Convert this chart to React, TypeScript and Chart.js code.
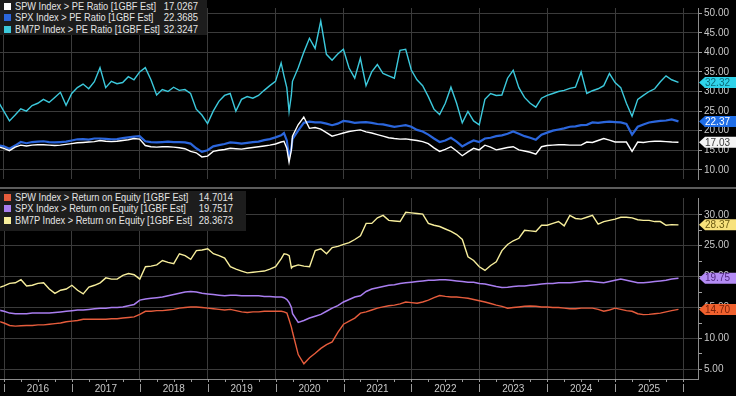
import React, { useEffect, useRef } from "react";
import { Chart, registerables } from "chart.js";

Chart.register(...registerables);

// ---- x positions: months since Jan 2016 (extra points around the 2020 crash) ----
const MONTHS = [
  -1,
  0, 1, 2, 3, 4, 5, 6, 7, 8, 9, 10, 11,
  12, 13, 14, 15, 16, 17, 18, 19, 20, 21, 22, 23,
  24, 25, 26, 27, 28, 29, 30, 31, 32, 33, 34, 35,
  36, 37, 38, 39, 40, 41, 42, 43, 44, 45, 46, 47,
  48, 49, 49.5, 50, 50.4, 50.8, 51, 52, 53, 54, 55, 56, 57, 58, 59,
  60, 61, 62, 63, 64, 65, 66, 67, 68, 69, 70, 71,
  72, 73, 74, 75, 76, 77, 78, 79, 80, 81, 82, 83,
  84, 85, 86, 87, 88, 89, 90, 91, 92, 93, 94, 95,
  96, 97, 98, 99, 100, 101, 102, 103, 104, 105, 106, 107,
  108, 109, 110, 111, 112, 113, 114, 115, 116, 117, 118, 119.2,
];

const YEARS = ["2016", "2017", "2018", "2019", "2020", "2021", "2022", "2023", "2024", "2025"];

// ---- top panel: PE ratio ----
const SPW_PE = [
  15.9,
  15.5, 14.9, 15.8, 16.3, 16.1, 16.3, 16.4, 16.4, 16.3, 16.2, 16.3, 16.5,
  16.7, 16.9, 17.0, 17.1, 17.2, 17.5, 17.3, 17.2, 17.3, 17.5, 17.7, 18.0,
  17.85, 16.2, 15.9, 15.8, 15.9, 15.9, 15.8, 15.65, 15.4, 14.7, 14.35, 13.3,
  13.5, 14.7, 15.0, 15.2, 15.5, 15.4, 15.3, 15.5, 15.7, 15.9, 16.1, 16.3,
  16.6, 17.1, 17.3, 15.5, 12.0, 15.0, 18.6, 21.5, 23.5, 20.6, 20.8, 20.4, 19.5, 18.6, 19.0,
  19.4, 19.8, 20.0, 20.2, 19.7, 19.4, 19.0, 18.6, 18.2, 18.0, 17.85, 17.9,
  17.7, 17.5, 17.2, 16.7, 15.6, 14.7, 15.2, 15.9, 14.8, 13.6, 14.6, 15.5,
  15.1, 16.3, 15.8, 15.1, 15.4, 15.7, 15.9, 15.1, 14.8, 14.5, 14.0, 15.9,
  16.2, 16.3, 16.4, 16.4, 16.3, 16.3, 16.3, 17.1, 17.0, 17.5, 18.0, 17.6,
  17.1, 17.1, 17.1, 14.7, 17.1, 17.0, 17.2, 17.3, 17.3, 17.2, 17.1, 17.03,
];
const SPX_PE = [
  16.3,
  16.0, 15.4, 16.2, 17.1, 16.8, 17.1, 17.2, 17.3, 17.1, 17.0, 17.1, 17.2,
  17.5, 17.8, 17.85, 17.7, 18.0, 18.0, 17.9, 17.8, 17.85, 18.1, 18.3, 18.5,
  18.6, 17.3, 17.1, 17.0, 17.1, 17.2, 17.1, 17.1, 17.0, 16.7, 15.5, 14.6,
  15.0, 16.0, 16.3, 16.6, 17.0, 16.9, 16.7, 16.9, 17.1, 17.2, 17.6, 17.85,
  18.3, 18.8, 19.4, 17.5, 13.2, 15.5, 17.85, 20.0, 22.0, 22.3, 22.1, 22.1, 21.8, 21.4, 21.8,
  22.5, 22.3, 22.0, 22.1, 22.2, 22.0, 21.7, 21.6, 21.3, 21.0, 21.2, 21.4,
  21.0, 20.2, 19.8, 19.0, 18.0, 17.1, 17.5, 18.2, 17.2, 16.0, 16.8, 17.5,
  17.1, 18.0, 18.2, 18.6, 18.8, 19.2, 19.8, 19.2, 18.6, 18.2, 17.7, 19.0,
  19.5, 20.0, 20.3, 20.6, 21.0, 21.1, 21.4, 21.5, 22.1, 22.0, 22.2, 22.3,
  22.2, 22.1, 21.7, 19.0, 21.0, 21.6, 22.1, 22.3, 22.5, 22.6, 22.9, 22.37,
];
const BM7P_PE = [
  27.5,
  25.0, 22.5, 24.0, 25.6, 25.0, 26.4, 27.0, 28.0, 27.2, 28.5, 29.8, 26.5,
  29.5, 31.0, 31.9, 30.7, 32.5, 36.1, 31.0, 32.6, 32.0, 32.3, 33.8, 33.0,
  35.0, 36.1, 33.0, 29.1, 30.5, 30.0, 31.1, 30.3, 30.5, 29.5, 25.5, 24.0,
  21.8, 25.0, 27.5, 29.0, 29.5, 25.0, 28.0, 28.7, 28.3, 29.0, 30.3, 31.5,
  32.6, 37.3, 34.0, 31.0, 24.9, 29.0, 32.6, 36.0, 40.0, 43.6, 41.0, 48.0, 39.5, 38.0, 39.6,
  40.8, 36.0, 33.4, 38.5, 31.5, 35.0, 36.9, 34.6, 34.0, 33.4, 40.5, 40.8,
  35.5, 33.0, 31.5, 28.7, 25.5, 24.1, 27.0, 31.1, 27.0, 22.0, 24.9, 22.5,
  21.5, 28.0, 29.5, 29.0, 29.1, 33.4, 35.4, 31.0, 28.5, 27.0, 26.0, 28.3,
  29.0, 29.5, 30.0, 30.3, 30.8, 31.1, 35.0, 29.5, 30.2, 30.7, 31.5, 34.6,
  32.3, 31.0, 27.0, 23.7, 28.0, 29.0, 30.0, 30.7, 32.5, 34.0, 33.0, 32.32,
];

// ---- bottom panel: return on equity ----
const SPW_ROE = [
  12.8,
  12.5, 12.1, 12.0, 12.05, 12.1, 12.1, 12.2, 12.2, 12.3, 12.4, 12.5, 12.7,
  12.8, 12.9, 13.1, 13.1, 13.1, 13.1, 13.1, 13.2, 13.2, 13.3, 13.4, 13.5,
  13.9, 14.4, 14.4, 14.5, 14.5, 14.6, 14.7, 14.9, 15.0, 15.1, 15.1, 15.0,
  14.9, 14.8, 14.7, 14.6, 14.7, 14.5, 14.3, 14.2, 14.3, 14.3, 14.4, 14.4,
  14.4, 14.4, 14.3, 14.1, 13.0, 11.8, 11.0, 7.4, 5.9, 6.9, 7.6, 8.4, 9.0, 9.45, 11.0,
  12.3, 12.8, 13.3, 14.1, 14.3, 14.6, 14.9, 15.1, 15.3, 15.4, 15.6, 15.9,
  15.8, 15.7, 15.9, 16.2, 16.6, 16.95, 16.8, 16.7, 16.7, 16.6, 16.5, 16.3,
  16.1, 15.9, 15.65, 15.4, 15.2, 14.9, 15.0, 15.1, 15.2, 15.25, 15.2, 15.1,
  15.1, 15.0, 15.0, 14.9, 14.8, 14.8, 14.9, 14.9, 14.9, 14.7, 14.4, 14.6,
  14.9, 14.7, 14.5, 14.4, 14.0, 13.85, 13.9, 14.0, 14.1, 14.3, 14.5, 14.70,
];
const SPX_ROE = [
  14.6,
  14.4, 14.1, 14.0, 14.0, 14.0, 14.1, 14.1, 14.1, 14.1, 14.2, 14.3, 14.4,
  14.5, 14.6, 14.6, 14.7, 14.8, 14.9, 14.9, 15.0, 15.0, 15.1, 15.3, 15.5,
  16.2, 16.4, 16.5, 16.6, 16.7, 16.9, 17.1, 17.3, 17.5, 17.6, 17.5, 17.3,
  17.2, 17.1, 17.0, 16.9, 17.0, 17.0, 16.9, 16.9, 16.9, 16.9, 16.8, 16.8,
  16.7, 16.7, 16.6, 16.3, 15.8, 15.0, 14.0, 12.6, 12.9, 13.3, 13.6, 13.9, 14.4, 14.9, 15.3,
  15.9, 16.3, 16.7, 16.9, 17.6, 18.0, 18.2, 18.4, 18.6, 18.7, 18.9, 19.0,
  19.1, 19.2, 19.3, 19.4, 19.4, 19.5, 19.5, 19.4, 19.3, 19.2, 19.1, 19.1,
  18.9, 18.8, 18.6, 18.4, 18.25, 18.3, 18.4, 18.5, 18.5, 18.6, 18.7, 18.8,
  18.9, 18.9, 19.0, 19.0, 19.0, 19.1, 19.2, 19.3, 19.2, 19.1, 19.0, 19.2,
  19.4, 19.6, 19.4, 19.2, 19.0, 19.0, 19.1, 19.2, 19.3, 19.4, 19.6, 19.75,
];
const BM7P_ROE = [
  18.2,
  18.5, 18.9, 19.0, 19.5, 18.5, 18.6, 18.9, 19.0, 18.0, 17.3, 17.8, 18.0,
  18.6, 17.8, 17.2, 18.3, 18.6, 19.0, 19.8, 19.6, 19.6, 20.2, 20.5, 20.3,
  19.6, 21.6, 21.7, 21.9, 22.6, 22.3, 22.1, 23.7, 23.4, 22.8, 24.2, 24.3,
  24.5, 23.7, 23.4, 23.0, 21.6, 21.2, 20.9, 20.6, 20.7, 20.8, 20.9, 21.2,
  21.6, 22.9, 23.7, 23.6, 23.4, 21.4, 21.6, 21.9, 21.7, 21.6, 24.2, 24.5, 23.7, 24.7, 24.9,
  25.2, 25.5, 26.0, 26.6, 28.6, 28.6, 29.5, 29.9, 29.1, 29.0, 28.9, 30.4,
  30.3, 30.2, 30.1, 28.6, 28.3, 28.1, 27.7, 27.3, 26.8, 26.0, 23.2, 22.6,
  21.6, 21.0, 21.8, 22.4, 24.2, 25.2, 25.8, 26.2, 27.5, 27.4, 27.3, 28.3,
  28.3, 28.6, 28.9, 28.2, 29.9, 29.4, 29.3, 29.6, 29.9, 28.5, 28.9, 29.1,
  29.3, 29.6, 29.6, 29.5, 29.2, 29.1, 29.1, 28.9, 28.9, 28.3, 28.4, 28.37,
];

const TOP_LABELS = [
  "SPW Index > PE Ratio [1GBF Est]",
  "SPX Index > PE Ratio [1GBF Est]",
  "BM7P Index > PE Ratio [1GBF Est]",
];
const TOP_VALUES = ["17.0267", "22.3685", "32.3247"];
const BOTTOM_LABELS = [
  "SPW Index > Return on Equity [1GBF Est]",
  "SPX Index > Return on Equity [1GBF Est]",
  "BM7P Index > Return on Equity [1GBF Est]",
];
const BOTTOM_VALUES = ["14.7014", "19.7517", "28.3673"];

const TOP_COLORS = ["#ffffff", "#2b66dc", "#3cc9dc"];
const TOP_TAGS = [
  { bg: "#f4f4f4", fg: "#3a3a3a" },
  { bg: "#1f6ee8", fg: "#ffffff" },
  { bg: "#2fd3ea", fg: "#0c6a78" },
];
const BOTTOM_COLORS = ["#e65c3c", "#a97ef0", "#f7ee9c"];
const BOTTOM_TAGS = [
  { bg: "#f0612e", fg: "#7a2008" },
  { bg: "#b48cf5", fg: "#51287f" },
  { bg: "#f8e27c", fg: "#6a5a12" },
];

const FONT = "Arial, 'Liberation Sans', sans-serif";
const GRID = "#3b3b3b";
const X_MIN = -0.671;
const X_MAX = 122.65;
const RIGHT_W = 38;

function tagPlugin(tags: { bg: string; fg: string }[]) {
  return {
    id: "tags",
    afterDraw(chart: any) {
      const ctx = chart.ctx;
      const ys = chart.scales.y;
      const x0 = chart.chartArea.right + 1;
      const w = chart.width;
      chart.data.datasets.forEach((ds: any, i: number) => {
        const last = ds.data[ds.data.length - 1];
        const y = ys.getPixelForValue(last.y);
        const t = tags[i];
        ctx.save();
        ctx.fillStyle = t.bg;
        ctx.beginPath();
        ctx.moveTo(x0, y);
        ctx.lineTo(x0 + 6, y - 5.5);
        ctx.lineTo(w, y - 5.5);
        ctx.lineTo(w, y + 5.5);
        ctx.lineTo(x0 + 6, y + 5.5);
        ctx.closePath();
        ctx.fill();
        ctx.fillStyle = t.fg;
        ctx.font = `10px ${FONT}`;
        ctx.textBaseline = "middle";
        ctx.textAlign = "left";
        ctx.fillText(last.y.toFixed(2), x0 + 6, y + 0.5);
        ctx.restore();
      });
    },
  };
}

const xDecoPlugin = {
  id: "xdeco",
  afterDraw(chart: any) {
    const ctx = chart.ctx;
    const xs = chart.scales.x;
    const b = chart.chartArea.bottom;
    ctx.save();
    ctx.strokeStyle = "#9a9a9a";
    ctx.lineWidth = 1;
    for (let q = 0; q <= YEARS.length * 12; q += 3) {
      const x = Math.round(xs.getPixelForValue(q)) + 0.5;
      ctx.beginPath();
      ctx.moveTo(x, b);
      ctx.lineTo(x, b + 3);
      ctx.stroke();
    }
    for (let yI = 0; yI <= YEARS.length; yI++) {
      const x = Math.round(xs.getPixelForValue(yI * 12)) + 0.5;
      ctx.beginPath();
      ctx.moveTo(x, b + 5);
      ctx.lineTo(x, b + 13);
      ctx.stroke();
    }
    ctx.restore();
  },
};

function makeY(min: number, max: number, lo: number, hi: number) {
  return {
    position: "right",
    min,
    max,
    afterBuildTicks: (s: any) => {
      const t: any[] = [];
      for (let v = lo; v <= hi + 1e-9; v += 2.5) t.push({ value: v });
      s.ticks = t;
    },
    afterFit: (s: any) => {
      s.width = RIGHT_W;
    },
    ticks: {
      color: "#c8c8c8",
      font: { size: 10, family: FONT },
      padding: 2,
      callback: (v: any) => (Math.abs(v % 5) < 1e-9 ? Number(v).toFixed(2) : ""),
    },
    grid: {
      color: (c: any) => (c.tick && Math.abs(c.tick.value % 5) < 1e-9 ? GRID : "transparent"),
      tickColor: "#a0a0a0",
      tickLength: 4,
      lineWidth: 1,
    },
    border: { display: true, color: "#8c8c8c" },
  };
}

function makeDatasets(series: number[][], colors: string[], widths: number[]) {
  return series.map((s, i) => ({
    data: MONTHS.map((m, k) => ({ x: m, y: s[k] })),
    borderColor: colors[i],
    borderWidth: widths[i],
    pointRadius: 0,
    tension: 0,
    fill: false,
  }));
}

function Legend({ labels, values, colors, top, width, height, valueRight }: any) {
  return (
    <div
      style={{
        position: "absolute",
        left: 0,
        top,
        width,
        height,
        background: "#1d1d1d",
        fontFamily: FONT,
        fontSize: 10.5,
        color: "#e4e4e4",
        paddingTop: 1,
        boxSizing: "border-box",
      }}
    >
      {labels.map((l: string, i: number) => (
        <div key={i} style={{ position: "relative", height: 11.3, lineHeight: "11.3px", whiteSpace: "nowrap" }}>
          <span
            style={{
              position: "absolute",
              left: 3.5,
              top: 2,
              width: 7,
              height: 7,
              background: colors[i],
            }}
          />
          <span
            style={{
              position: "absolute",
              left: 15,
              transform: "scaleX(0.88)",
              transformOrigin: "left center",
            }}
          >
            {l}
          </span>
          <span
            style={{
              position: "absolute",
              right: valueRight,
              transform: "scaleX(0.9)",
              transformOrigin: "right center",
            }}
          >
            {values[i]}
          </span>
        </div>
      ))}
    </div>
  );
}

export default function App() {
  const topRef = useRef<HTMLCanvasElement>(null);
  const botRef = useRef<HTMLCanvasElement>(null);

  useEffect(() => {
    const boundaries = YEARS.map((_, i) => i * 12).concat([YEARS.length * 12]);
    const common: any = {
      responsive: false,
      animation: false,
      maintainAspectRatio: false,
      layout: { padding: 0 },
      events: [],
      plugins: { legend: { display: false }, tooltip: { enabled: false } },
    };

    const top = new Chart(topRef.current as HTMLCanvasElement, {
      type: "line",
      data: { datasets: makeDatasets([SPW_PE, SPX_PE, BM7P_PE], TOP_COLORS, [1.4, 2.2, 1.4]) as any },
      options: {
        ...common,
        scales: {
          x: {
            type: "linear",
            min: X_MIN,
            max: X_MAX,
            afterBuildTicks: (s: any) => {
              s.ticks = boundaries.map((v) => ({ value: v }));
            },
            afterFit: (s: any) => {
              s.height = 0;
            },
            ticks: { display: false },
            grid: { color: GRID, drawTicks: false, lineWidth: 1 },
            border: { display: false },
          },
          y: makeY(7.66, 51.33, 10, 50),
        },
      } as any,
      plugins: [tagPlugin(TOP_TAGS)],
    });

    const bot = new Chart(botRef.current as HTMLCanvasElement, {
      type: "line",
      data: { datasets: makeDatasets([SPW_ROE, SPX_ROE, BM7P_ROE], BOTTOM_COLORS, [1.4, 1.5, 1.4]) as any },
      options: {
        ...common,
        scales: {
          x: {
            type: "linear",
            min: X_MIN,
            max: X_MAX,
            afterBuildTicks: (s: any) => {
              const t: any[] = [];
              boundaries.forEach((b) => t.push({ value: b }));
              YEARS.forEach((_, i) => t.push({ value: i * 12 + 6 }));
              t.sort((a, b) => a.value - b.value);
              s.ticks = t;
            },
            afterFit: (s: any) => {
              s.height = 17;
            },
            ticks: {
              autoSkip: false,
              maxRotation: 0,
              color: "#c8c8c8",
              font: { size: 10, family: FONT },
              padding: 4,
              callback: (v: any) => {
                const n = Number(v);
                return (n - 6) % 12 === 0 ? YEARS[(n - 6) / 12] : "";
              },
            },
            grid: {
              color: (c: any) => (c.tick && c.tick.value % 12 === 0 ? GRID : "transparent"),
              drawTicks: false,
              lineWidth: 1,
            },
            border: { display: true, color: "#8c8c8c" },
          },
          y: makeY(3.45, 32.71, 5, 30),
        },
      } as any,
      plugins: [tagPlugin(BOTTOM_TAGS), xDecoPlugin],
    });

    return () => {
      top.destroy();
      bot.destroy();
    };
  }, []);

  return (
    <div
      style={{
        position: "fixed",
        left: 0,
        top: 0,
        width: 736,
        height: 396,
        background: "#000",
        overflow: "hidden",
        fontFamily: FONT,
      }}
    >
      <canvas ref={topRef} width={736} height={187} style={{ position: "absolute", left: 0, top: 0, display: "block" }} />
      <div style={{ position: "absolute", left: 0, top: 187, width: 736, height: 2, background: "#5c5c5c" }} />
      <canvas ref={botRef} width={736} height={206} style={{ position: "absolute", left: 0, top: 190, display: "block" }} />
      <Legend labels={TOP_LABELS} values={TOP_VALUES} colors={TOP_COLORS} top={0} width={207} height={35} valueRight={9} />
      <Legend labels={BOTTOM_LABELS} values={BOTTOM_VALUES} colors={BOTTOM_COLORS} top={191} width={246} height={40} valueRight={13} />
    </div>
  );
}
